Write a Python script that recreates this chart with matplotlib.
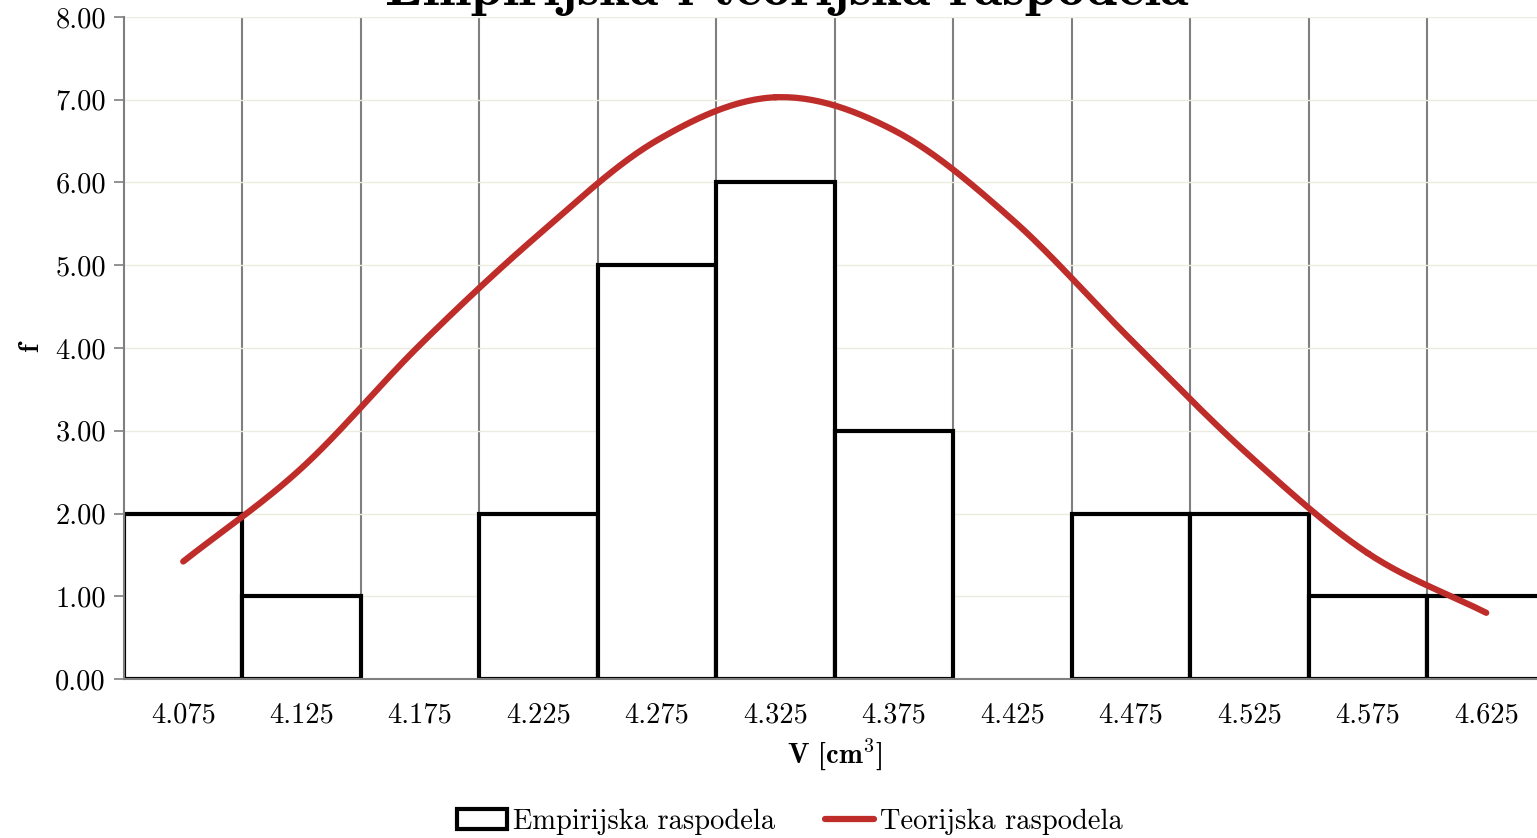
import numpy as np
import matplotlib
matplotlib.use("Agg")
import matplotlib.pyplot as plt
from matplotlib.ticker import FormatStrFormatter, FixedLocator
from matplotlib.patches import Patch
from matplotlib.lines import Line2D

# bin centres and values
centers = [4.075, 4.125, 4.175, 4.225, 4.275, 4.325, 4.375, 4.425, 4.475, 4.525, 4.575, 4.625]
empirical = [2, 1, 0, 2, 5, 6, 3, 0, 2, 2, 1, 1]
theoretical = [1.42, 2.55, 4.04, 5.37, 6.51, 7.03, 6.63, 5.55, 4.10, 2.70, 1.52, 0.80]
bin_width = 0.05

plt.rcParams["font.family"] = "cmr10"
plt.rcParams["mathtext.fontset"] = "cm"
plt.rcParams["axes.formatter.use_mathtext"] = True


def smooth(xs, ys, n=30):
    # Catmull-Rom curve through the points, like a smoothed line
    xs = np.asarray(xs, float)
    ys = np.asarray(ys, float)
    px = np.concatenate([[2 * xs[0] - xs[1]], xs, [2 * xs[-1] - xs[-2]]])
    py = np.concatenate([[2 * ys[0] - ys[1]], ys, [2 * ys[-1] - ys[-2]]])
    out_x, out_y = [], []
    t = np.linspace(0, 1, n)
    for i in range(1, len(px) - 2):
        for p, out in ((px, out_x), (py, out_y)):
            p0, p1, p2, p3 = p[i - 1], p[i], p[i + 1], p[i + 2]
            out.extend(0.5 * (2 * p1 + (-p0 + p2) * t
                              + (2 * p0 - 5 * p1 + 4 * p2 - p3) * t ** 2
                              + (-p0 + 3 * p1 - 3 * p2 + p3) * t ** 3))
    return np.array(out_x), np.array(out_y)


fig = plt.figure(figsize=(15.37, 8.38), dpi=100)
ax = fig.add_axes([124 / 1537, 1 - 679 / 838, 1421.5 / 1537, 662 / 838])

bars = ax.bar(centers, empirical, width=bin_width, color="white",
              edgecolor="black", linewidth=3.0, zorder=2)
for b, v in zip(bars, empirical):
    if v == 0:
        b.set_visible(False)

sx, sy = smooth(centers, theoretical)
ax.plot(sx, sy, color="#BE2D2A", linewidth=4.5, solid_capstyle="round", zorder=3)

ax.set_xlim(4.05, 4.65)
ax.set_ylim(0, 8)
ax.set_yticks(np.arange(0, 9, 1))
ax.yaxis.set_major_formatter(FormatStrFormatter("%.2f"))
ax.set_xticks(centers)
ax.set_xticklabels([f"{c:.3f}" for c in centers])
ax.xaxis.set_minor_locator(FixedLocator([4.05 + bin_width * i for i in range(1, 12)]))

ax.set_axisbelow(True)
ax.grid(axis="y", color="#EBEBE0", linewidth=1)
ax.grid(axis="x", which="minor", color="#7F7F7F", linewidth=1.5)
ax.grid(axis="x", which="major", visible=False)

for s in ("top", "right"):
    ax.spines[s].set_visible(False)
for s in ("left", "bottom"):
    ax.spines[s].set_color("#7F7F7F")
    ax.spines[s].set_linewidth(1.5)

ax.tick_params(axis="y", direction="out", length=7, width=1.2, color="#7F7F7F",
               labelsize=20.5, pad=6)
ax.tick_params(axis="x", which="both", length=0, labelsize=20.5, pad=17)

ax.set_xlabel(r"V [cm$^{\mathbf{3}}$]", fontfamily="cmb10", fontsize=20.5, labelpad=6)
ax.set_ylabel("f", fontfamily="cmb10", fontsize=20.5, labelpad=8)
fig.text(0.512, 1 - 5 / 838, "Empirijska i teorijska raspodela", fontfamily="cmb10",
         fontsize=41.5, ha="center", va="baseline")

handles = [Patch(facecolor="white", edgecolor="black", linewidth=3.0),
           Line2D([0], [0], color="#BE2D2A", linewidth=4.5, solid_capstyle="round")]
fig.legend(handles, ["Empirijska raspodela", "Teorijska raspodela"],
           loc="center", bbox_to_anchor=(0.514, 0.019), ncol=2, frameon=False,
           fontsize=20.5, handlelength=1.75, handletextpad=0.2, columnspacing=1.75)

fig.savefig("out.png", dpi=100)
